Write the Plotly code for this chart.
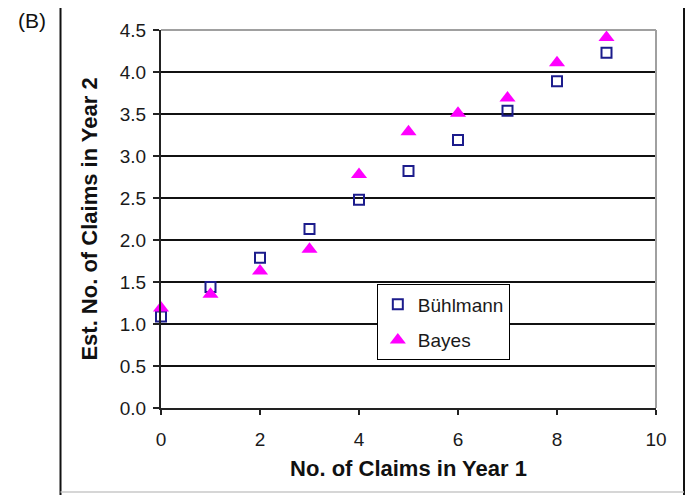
import plotly.graph_objects as go

claims_year1 = [0, 1, 2, 3, 4, 5, 6, 7, 8, 9]
buhlmann = [1.09, 1.44, 1.79, 2.13, 2.48, 2.82, 3.19, 3.54, 3.89, 4.23]
bayes = [1.19, 1.355, 1.63, 1.89, 2.78, 3.29, 3.51, 3.69, 4.11, 4.41]
x_ticks = [0, 2, 4, 6, 8, 10]
y_ticks = [0.0, 0.5, 1.0, 1.5, 2.0, 2.5, 3.0, 3.5, 4.0, 4.5]

FONT = "Arial, Liberation Sans, sans-serif"
TXT = "#1a1a1a"

fig = go.Figure()
fig.add_trace(go.Scatter(
    x=claims_year1, y=buhlmann, mode="markers", name="Bühlmann",
    legendgroup="a", cliponaxis=False,
    marker=dict(symbol="square-open", size=10, color="#1c1c8c",
                line=dict(width=2, color="#1c1c8c")),
))
fig.add_trace(go.Scatter(
    x=claims_year1, y=bayes, mode="markers", name="Bayes",
    legendgroup="b", cliponaxis=False,
    marker=dict(symbol="triangle-up", size=14, color="#ff00ff"),
))

fig.update_layout(
    width=685, height=487,
    margin=dict(l=153, r=37, t=18, b=87),
    paper_bgcolor="white", plot_bgcolor="white",
    font=dict(family=FONT, size=19, color=TXT),
    showlegend=True,
    legend=dict(
        x=0.436, y=0.327, xanchor="left", yanchor="top",
        bordercolor="black", borderwidth=1, bgcolor="white",
        font=dict(family=FONT, size=19, color=TXT),
        traceorder="grouped", tracegroupgap=8, itemwidth=30,
    ),
    xaxis=dict(
        range=[0, 10], tickvals=x_ticks, ticktext=[str(v) for v in x_ticks],
        showgrid=False, zeroline=False,
        showline=True, linecolor="#222222", linewidth=2,
        ticks="outside", ticklen=5, tickcolor="#222222", tickwidth=2,
        ticklabelstandoff=8,
        tickfont=dict(family=FONT, size=19, color=TXT),
        title=dict(text="<b>No. of Claims in Year 1</b>", standoff=12,
                   font=dict(family=FONT, size=22, color="#111111")),
    ),
    yaxis=dict(
        range=[0, 4.5], tickvals=y_ticks, ticktext=[f"{v:.1f}" for v in y_ticks],
        showgrid=True, gridcolor="#111111", gridwidth=1.5, zeroline=False,
        showline=True, linecolor="#222222", linewidth=2,
        ticks="outside", ticklen=6, tickcolor="#222222", tickwidth=2,
        ticklabelstandoff=3,
        tickfont=dict(family=FONT, size=19, color=TXT),
        title=dict(text="<b>Est. No. of Claims in Year 2</b>", standoff=16,
                   font=dict(family=FONT, size=22, color="#111111")),
    ),
    shapes=[
        dict(type="line", xref="paper", yref="paper", x0=0, x1=1, y0=1, y1=1,
             line=dict(color="#a0a0a0", width=2), layer="above"),
        dict(type="line", xref="paper", yref="paper", x0=1, x1=1, y0=0, y1=1,
             line=dict(color="#a0a0a0", width=2), layer="above"),
        dict(type="line", xref="paper", yref="paper", x0=-0.203, x1=-0.203, y0=-0.25, y1=1.1,
             line=dict(color="#111111", width=2)),
        dict(type="line", xref="paper", yref="paper", x0=1.0566, x1=1.0566, y0=-0.25, y1=1.1,
             line=dict(color="#111111", width=2)),
        dict(type="line", xref="paper", yref="paper", x0=-0.203, x1=1.0566, y0=-0.2225, y1=-0.2225,
             line=dict(color="#c8c8c8", width=1.5)),
    ],
    annotations=[
        dict(text="(B)", xref="paper", yref="paper", x=-0.261, y=1.024,
             xanchor="center", yanchor="middle", showarrow=False,
             font=dict(family=FONT, size=21, color="#111111")),
    ],
)

fig.write_html("out.html")
